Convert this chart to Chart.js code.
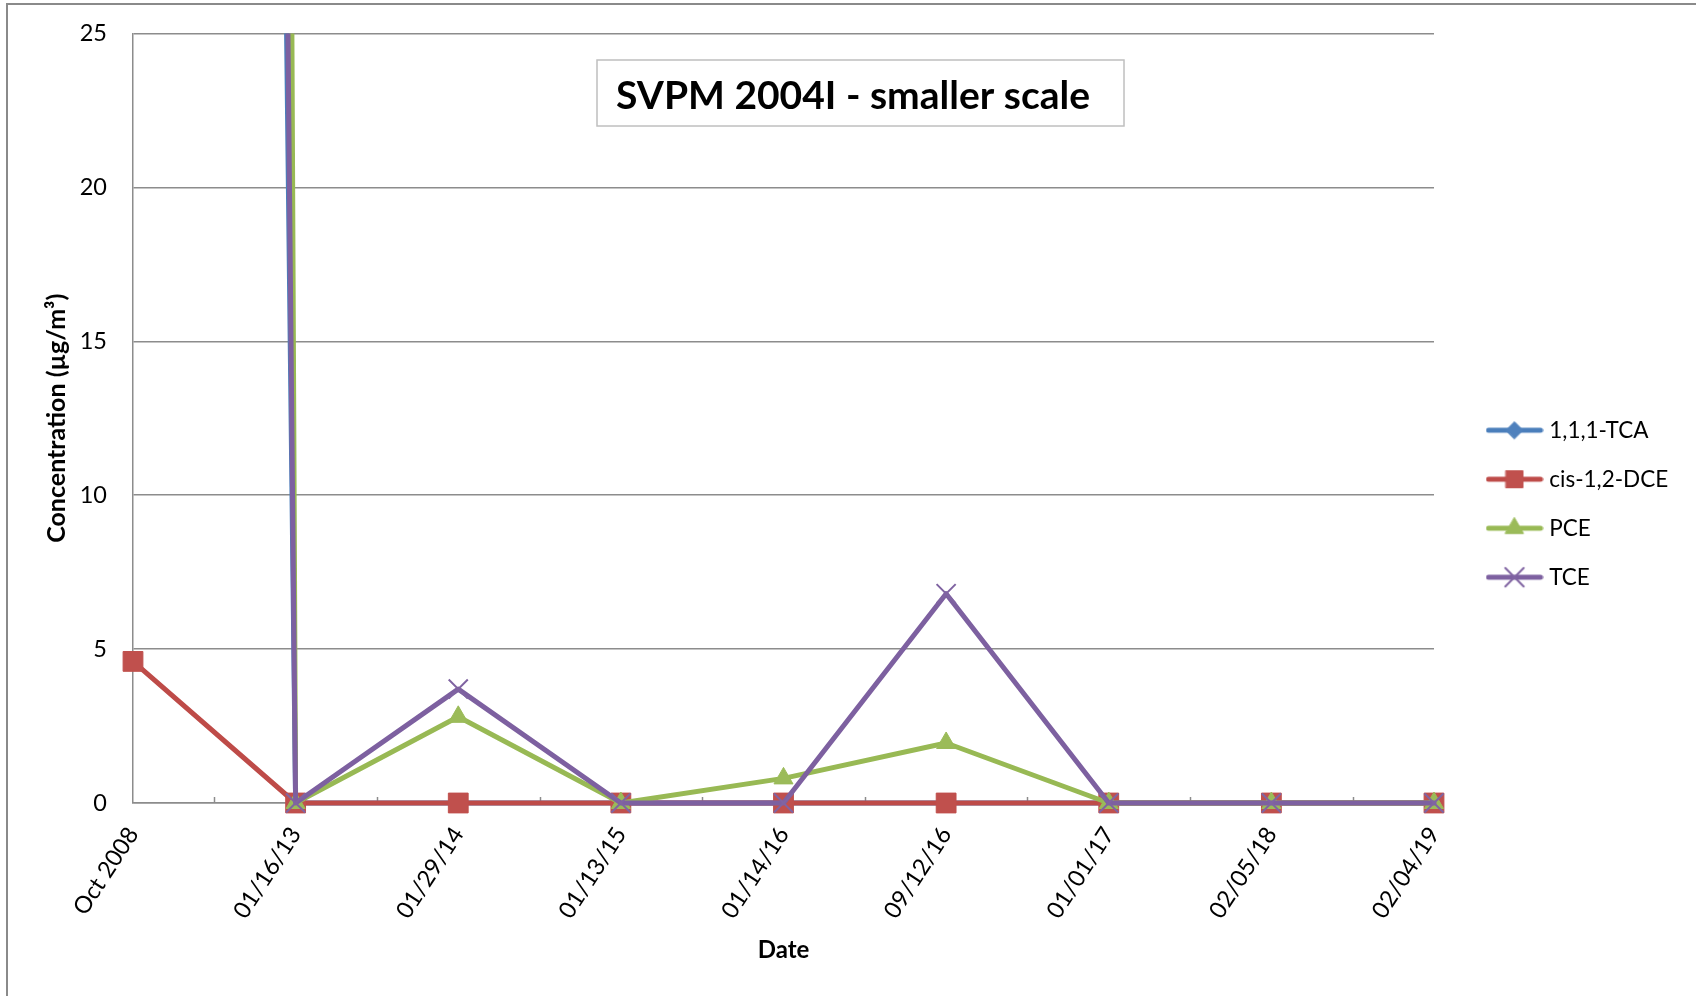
<!DOCTYPE html>
<html>
<head>
<meta charset="utf-8">
<title>SVPM 2004I - smaller scale</title>
<script src="https://cdn.jsdelivr.net/npm/chart.js@4.4.1/dist/chart.umd.min.js"></script>
<style>
    html, body { margin: 0; padding: 0; background: #fff; }
    canvas { display: block; }
</style>
</head>
<body>
<canvas id="svpmChart" width="1696" height="996"></canvas>
<script>
// ==============================================
// DATA - SVPM 2004I
// ==============================================
const sampleDates = ['Oct 2008', '01/16/13', '01/29/14', '01/13/15', '01/14/16', '09/12/16', '01/01/17', '02/05/18', '02/04/19'];

// first sample is off the scale for TCA, PCE and TCE
const tcaValues = [450, 0, 0, 0, 0, 0, 0, 0, 0];
const dceValues = [4.6, 0, 0, 0, 0, 0, 0, 0, 0];
const pceValues = [1350, 0, 2.8, 0, 0.8, 1.95, 0, 0, 0];
const tceValues = [530, 0, 3.7, 0, 0, 6.8, 0, 0, 0];

const seriesNames = ['1,1,1-TCA', 'cis-1,2-DCE', 'PCE', 'TCE'];

const yAxisMin = 0;
const yAxisMax = 25;
const yAxisStep = 5;

// ==============================================
// STYLE
// ==============================================
const lineColors = ['#4A7EBB', '#BE4B48', '#98B954', '#7D60A0'];
const markerColors = ['#4F81BD', '#C0504D', '#9BBB59', '#8064A2'];
const gridColor = '#8c8c8c';
const fontFamily = 'Lato, "Liberation Sans", sans-serif';

// target plot box (px)
const plotTop = 33.5;
const plotRight = 1434;

Chart.defaults.font.family = fontFamily;
Chart.defaults.color = '#000';

// legend icon: line with marker in the middle, like the spreadsheet legend
function makeLegendIcon(lineColor, markerColor, pointStyle, radius, borderWidth) {
    const c = document.createElement('canvas');
    c.width = 58;
    c.height = 24;
    const g = c.getContext('2d');
    g.strokeStyle = lineColor;
    g.lineWidth = 5;
    g.lineCap = 'round';
    g.beginPath();
    g.moveTo(3, 12);
    g.lineTo(55, 12);
    g.stroke();
    g.fillStyle = markerColor;
    g.strokeStyle = markerColor;
    g.lineWidth = borderWidth;
    Chart.helpers.drawPoint(g, { pointStyle: pointStyle, radius: radius, rotation: 0, borderWidth: borderWidth }, 29, 12);
    return c;
}

const legendIcons = [
    makeLegendIcon(lineColors[0], markerColors[0], 'rectRot', 8.5, 1),
    makeLegendIcon(lineColors[1], markerColors[1], 'rect', 12, 1),
    makeLegendIcon(lineColors[2], markerColors[2], 'triangle', 10.5, 1),
    makeLegendIcon(lineColors[3], markerColors[3], 'crossRot', 13, 2)
];

function makeSeries(i, values, pointStyle, radius, pointBorder, order) {
    return {
        label: seriesNames[i],
        data: values,
        borderColor: lineColors[i],
        backgroundColor: markerColors[i],
        pointBackgroundColor: markerColors[i],
        pointBorderColor: markerColors[i],
        pointStyle: pointStyle,
        pointRadius: radius,
        pointHoverRadius: radius,
        pointBorderWidth: pointBorder,
        borderWidth: 5,
        borderJoinStyle: 'round',
        borderCapStyle: 'round',
        tension: 0,
        fill: false,
        order: order,
        clip: { left: 20, right: 20, top: 0, bottom: 20 }
    };
}

// ==============================================
// PLUGINS
// ==============================================
// outer chart frame
const framePlugin = {
    id: 'frame',
    beforeDraw(chart) {
        const ctx = chart.ctx;
        ctx.save();
        ctx.fillStyle = '#8a8a8a';
        ctx.fillRect(6, 3, 2, chart.height);
        ctx.fillRect(6, 3, chart.width, 2);
        ctx.restore();
    }
};

// small inward tick marks between categories
const midTicksPlugin = {
    id: 'midTicks',
    beforeDatasetsDraw(chart) {
        const xs = chart.scales.x;
        const ctx = chart.ctx;
        const bottom = chart.chartArea.bottom;
        ctx.save();
        ctx.strokeStyle = gridColor;
        ctx.lineWidth = 1.5;
        for (let i = 0; i < sampleDates.length - 1; i++) {
            const x = Math.round((xs.getPixelForValue(i) + xs.getPixelForValue(i + 1)) / 2) + 0.5;
            ctx.beginPath();
            ctx.moveTo(x, bottom - 6);
            ctx.lineTo(x, bottom);
            ctx.stroke();
        }
        ctx.restore();
    }
};

// boxed title inside the plot
const titleBoxPlugin = {
    id: 'titleBox',
    afterDraw(chart) {
        const ctx = chart.ctx;
        ctx.save();
        ctx.fillStyle = '#fff';
        ctx.fillRect(597, 60, 527, 66);
        ctx.strokeStyle = '#bfbfbf';
        ctx.lineWidth = 1.5;
        ctx.strokeRect(597, 60, 527, 66);
        ctx.fillStyle = '#000';
        ctx.font = 'bold 39px ' + fontFamily;
        ctx.textAlign = 'left';
        ctx.textBaseline = 'alphabetic';
        ctx.fillText('SVPM 2004I - smaller scale', 616, 109);
        ctx.restore();
    }
};

// move the legend block to where the original has it
const legendShiftPlugin = {
    id: 'legendShift',
    afterLayout(chart) {
        const lg = chart.legend;
        if (!lg) return;
        const pad = lg.options.labels.padding;
        const dx = 1491 - (lg.left + pad);
        const dy = 430 - 11 - (lg.top + pad);
        lg.left += dx; lg.right += dx;
        lg.top += dy; lg.bottom += dy;
    }
};

// ==============================================
// CHART
// ==============================================
const ctx = document.getElementById('svpmChart');
const chart = new Chart(ctx, {
    type: 'line',
    data: {
        labels: sampleDates,
        datasets: [
            makeSeries(0, tcaValues, 'rectRot', 9, 1, 4),
            makeSeries(1, dceValues, 'rect', 14, 1, 3),
            makeSeries(2, pceValues, 'triangle', 11, 1, 2),
            makeSeries(3, tceValues, 'crossRot', 13.5, 2, 1)
        ]
    },
    options: {
        responsive: false,
        animation: false,
        devicePixelRatio: 1,
        layout: { padding: { top: plotTop, right: 0, bottom: 0, left: 0 } },
        plugins: {
            tooltip: { enabled: false },
            title: { display: false },
            legend: {
                position: 'right',
                align: 'start',
                labels: {
                    usePointStyle: true,
                    pointStyleWidth: 47,
                    padding: 26.5,
                    color: '#000',
                    font: { size: 22.5 },
                    sort: (a, b) => a.datasetIndex - b.datasetIndex,
                    generateLabels(chart) {
                        const items = Chart.defaults.plugins.legend.labels.generateLabels(chart);
                        items.forEach(item => {
                            item.pointStyle = legendIcons[item.datasetIndex];
                            item.lineWidth = 0;
                        });
                        return items;
                    }
                }
            }
        },
        scales: {
            x: {
                offset: false,
                grid: { display: true, drawOnChartArea: false, drawTicks: false },
                border: { display: true, color: gridColor, width: 1.5 },
                ticks: {
                    autoSkip: false,
                    maxRotation: 57,
                    minRotation: 57,
                    padding: 19,
                    color: '#000',
                    font: { size: 23.5 }
                },
                title: {
                    display: true,
                    text: 'Date',
                    color: '#000',
                    font: { size: 24, weight: 'bold' },
                    padding: { top: 0, bottom: 31 }
                },
                afterFit(scale) { scale.height = 193; }
            },
            y: {
                min: yAxisMin,
                max: yAxisMax,
                ticks: {
                    stepSize: yAxisStep,
                    padding: 6,
                    color: '#000',
                    font: { size: 23.5 }
                },
                // invisible tick marks give the gap between labels and axis
                grid: { color: gridColor, lineWidth: 1.5, drawTicks: true, tickLength: 20, tickColor: 'rgba(0,0,0,0)' },
                border: { display: true, color: gridColor, width: 1.5 },
                title: {
                    display: true,
                    text: 'Concentration (µg/m³)',
                    color: '#000',
                    font: { size: 25, weight: 'bold' },
                    padding: { top: 42, bottom: 0 }
                },
                afterFit(scale) { scale.width = 133; }
            }
        }
    },
    plugins: [framePlugin, midTicksPlugin, titleBoxPlugin, legendShiftPlugin]
});

// keep the plot's top and right edges where the original has them
const extraTop = chart.chartArea.top - plotTop;
const extraRight = chart.chartArea.right - plotRight;
if (Math.abs(extraTop) > 0.5 || Math.abs(extraRight) > 0.5) {
    chart.options.layout.padding.top -= extraTop;
    chart.options.layout.padding.right += extraRight;
    chart.update();
}
</script>
</body>
</html>
